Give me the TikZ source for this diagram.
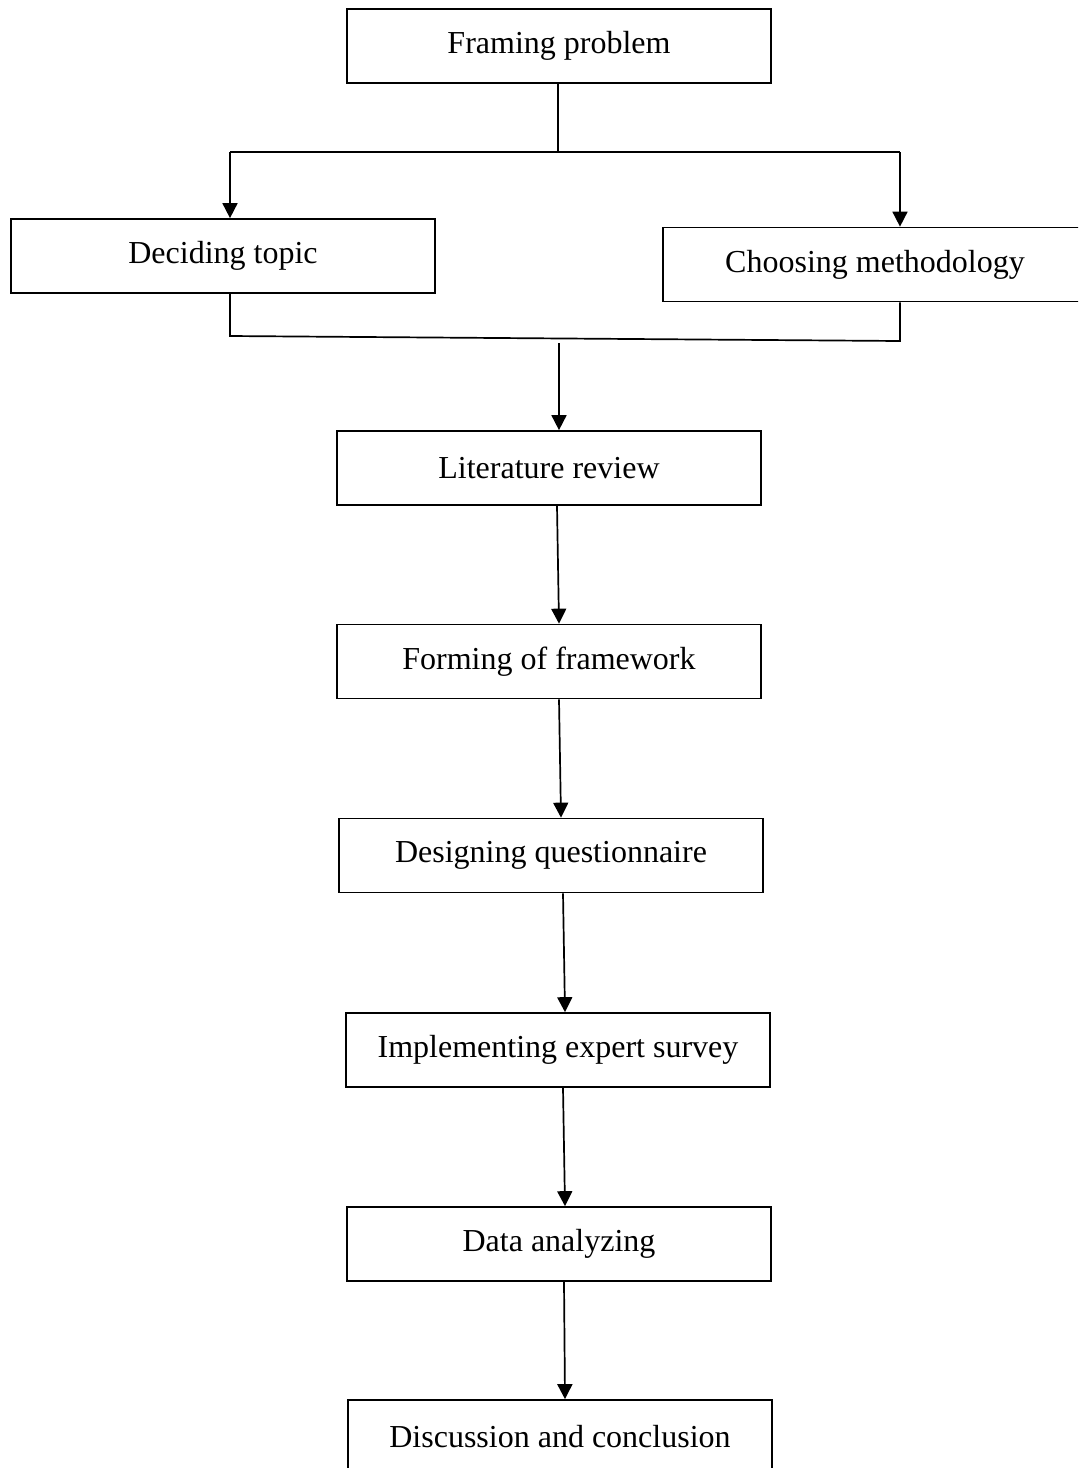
\documentclass[tikz,border=0pt]{standalone}
\usepackage{fontspec}
\setmainfont{Liberation Serif}
\usetikzlibrary{arrows.meta}
\begin{document}
\begin{tikzpicture}[x=0.5pt,y=-0.5pt,
  box/.style={draw,line width=0.85pt,minimum width=212pt,minimum height=37pt,inner sep=0pt,font=\fontsize{16}{19}\selectfont},
  conn/.style={line width=0.85pt},
  arr/.style={conn,-{Triangle[length=7.5pt,width=7.5pt]}}]
\useasboundingbox (0,0) rectangle (1078,1468);
\clip (0,0) rectangle (1078,1468);
\node[box] (framing) at (559,46) {Framing problem};
\node[box] (deciding) at (223,256) {Deciding topic};
\node[box] (choosing) at (875,264.5) {Choosing methodology};
\node[box] (lit) at (549,468) {Literature review};
\node[box] (form) at (549,661.5) {Forming of framework};
\node[box] (design) at (551,855.5) {Designing questionnaire};
\node[box] (impl) at (558,1050) {Implementing expert survey};
\node[box] (data) at (559,1244) {Data analyzing};
\node[box] (disc) at (560,1437) {Discussion and conclusion};
\coordinate (split) at (558,152);
\coordinate (tl) at (230,152);
\coordinate (tr) at (900,152);
\coordinate (bl) at (230,336);
\coordinate (br) at (900,341);
\coordinate (merge) at (559,343);
\draw[conn] ([xshift=-0.5pt]framing.south) -- (split);
\draw[conn] (tl) -- (tr);
\draw[arr] (tl) -- (tl |- deciding.north);
\draw[arr] (tr) -- (tr |- choosing.north);
\draw[conn] (bl |- deciding.south) -- (bl) -- (br) -- (br |- choosing.south);
\draw[arr] (merge) -- ([xshift=5pt]lit.north);
\draw[arr] ([xshift=4pt]lit.south) -- ([xshift=5pt]form.north);
\draw[arr] ([xshift=5pt]form.south) -- ([xshift=5pt]design.north);
\draw[arr] ([xshift=6pt]design.south) -- ([xshift=3.5pt]impl.north);
\draw[arr] ([xshift=2.5pt]impl.south) -- ([xshift=3pt]data.north);
\draw[arr] ([xshift=2.5pt]data.south) -- ([xshift=2.5pt]disc.north);
\end{tikzpicture}
\end{document}
